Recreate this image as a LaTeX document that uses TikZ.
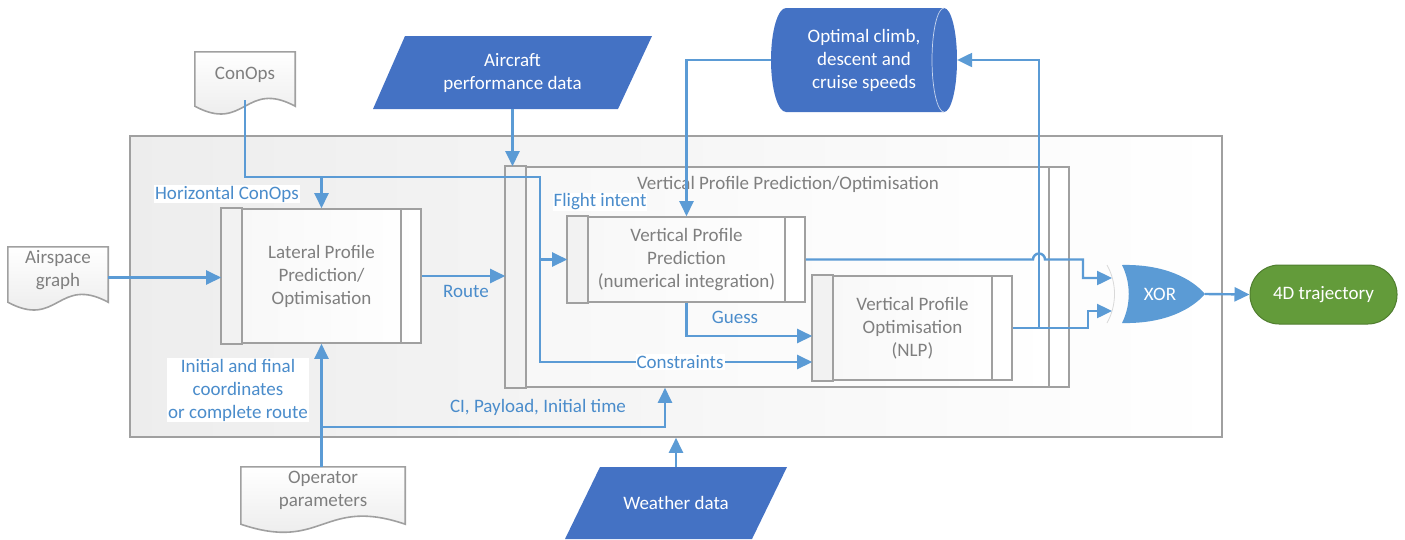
\documentclass[tikz,border=0pt]{standalone}
\usepackage{fontspec}
\setmainfont{Carlito}
\usetikzlibrary{arrows.meta,calc}
\definecolor{conn}{HTML}{5B9BD5}
\definecolor{lbl}{HTML}{4A8CCB}
\definecolor{boxline}{HTML}{A0A0A0}
\definecolor{boxtext}{HTML}{7F7F7F}
\definecolor{darkblue}{HTML}{4472C4}
\definecolor{xorblue}{HTML}{5B9BD5}
\definecolor{trajgreen}{HTML}{639B3A}
\definecolor{trajedge}{HTML}{507E2F}
\newcommand\docshape[2]{\draw[draw=boxline, line width=1.6pt, top color=white, bottom color=black!9] (#1.north west) -- (#1.north east) -- (#1.south east) .. controls ($(#1.south)+(0,-#2)$) and ($(#1.south)+(0,#2)$) .. (#1.south west) -- cycle;}
\newcommand\ppbars[2]{%
  \draw[draw=boxline, line width=1.6pt, fill=black!5] (#1.north west) rectangle ([xshift=#2]#1.south west);
  \draw[draw=boxline, line width=1.6pt] ([xshift=-#2]#1.north east) -- ([xshift=-#2]#1.south east);}
\begin{document}
\begin{tikzpicture}[x=1pt,y=-1pt, font=\fontsize{19}{23}\selectfont,
  link/.style={draw=conn, line width=2.4pt},
  arr/.style={link, -{Triangle[length=15pt,width=14pt]}},
  lab/.style={text=lbl, inner sep=1pt},
  labw/.style={lab, fill=white},
  procbox/.style={draw=boxline, line width=1.6pt, text=boxtext, align=center, inner sep=0pt, left color=black!3, right color=white},
  anchorbox/.style={inner sep=0pt, align=center},
]
\useasboundingbox (0,0) rectangle (1405,539);

% outer container
\node[draw=boxline, line width=1.6pt, left color=black!7, right color=white, minimum width=1092pt, minimum height=301pt, inner sep=0pt] (outer) at (676,286.5) {};

% vertical profile prediction/optimisation container
\node[procbox, minimum width=563pt, minimum height=220pt] (vppo) at (787.5,277) {};
\ppbars{vppo}{21pt}
\node[text=boxtext] (vppotitle) at (788,184) {Vertical Profile Prediction/Optimisation};

% lateral
\node[procbox, minimum width=199pt, minimum height=134pt] (lat) at (321.5,276) {Lateral Profile\\Prediction/\\Optimisation};
\ppbars{lat}{21pt}

% vertical prediction
\node[procbox, minimum width=237pt, minimum height=85pt] (vpp) at (686.5,259.5) {Vertical Profile\\Prediction\\(numerical integration)};
\ppbars{vpp}{21pt}

% NLP
\node[procbox, minimum width=199pt, minimum height=104pt] (nlp) at (912.5,328) {Vertical Profile\\Optimisation\\(NLP)};
\ppbars{nlp}{21pt}

% documents
\node[anchorbox, minimum width=100pt, minimum height=54pt] (conops) at (245,79) {};
\docshape{conops}{27}
\node[text=boxtext] (conopstext) at (245,75) {ConOps};

\node[anchorbox, minimum width=100pt, minimum height=55pt] (air) at (58,274.5) {};
\docshape{air}{27}
\node[text=boxtext, align=center] (airtext) at (58,270) {Airspace\\graph};

\node[anchorbox, minimum width=164pt, minimum height=57pt] (op) at (323,495.5) {};
\docshape{op}{28}
\node[text=boxtext, align=center] (optext) at (323,490) {Operator\\parameters};

% data parallelograms
\fill[darkblue] (405,36) -- (652,36) -- (618,109) -- (373,109) -- cycle;
\node[anchorbox, text=white, minimum height=73pt, minimum width=10pt] (acp) at (512.5,72.5) {Aircraft\\performance data};

\fill[darkblue] (600,467) -- (787,467) -- (752,539) -- (565,539) -- cycle;
\node[anchorbox, text=white, minimum height=72pt, minimum width=10pt] (wx) at (676,503) {Weather data};

% cylinder
\fill[darkblue] (786,8) -- (944,8) arc[start angle=-90,end angle=90,x radius=13,y radius=52] -- (786,112) arc[start angle=90,end angle=270,x radius=15,y radius=52] -- cycle;
\draw[white!70!darkblue, line width=0.7pt] (944,8) arc[start angle=-90,end angle=-270,x radius=12,y radius=52];
\node[anchorbox, text=white, minimum width=186pt, minimum height=104pt] (cyl) at (864,60) {Optimal climb,\\descent and\\cruise speeds};

% XOR gate
\draw[black!15, line width=0.8pt] (1107,265) .. controls (1117,283) and (1117,305) .. (1107,323);
\fill[xorblue] (1122,265) .. controls (1165,264) and (1192,279) .. (1205,294) .. controls (1192,309) and (1165,324) .. (1122,323) .. controls (1131,305) and (1131,283) .. cycle;
\node[anchorbox, text=white, minimum width=90pt, minimum height=58pt] (xor) at (1160,294) {XOR};

% 4D trajectory
\node[fill=trajgreen, draw=trajedge, line width=1pt, rounded corners=29pt, minimum width=147pt, minimum height=59pt, text=white, inner sep=0pt] (traj) at (1323.5,294.5) {4D trajectory};

% helper coordinates
\coordinate (cA) at (540,177);
\coordinate (fb) at (1039,0);
\coordinate (bx1) at (1083,0);
\coordinate (bx2) at (1088,0);
\coordinate (xin1) at (1112,278);
\coordinate (xin2) at (1112,311);
\coordinate (cB) at (321.5,427);

% connectors
\draw[arr] ([yshift=6pt]conops.south) |- (cA) |- ([yshift=-34pt]nlp.west);
\draw[arr] (lat.north |- cA) -- (lat.north);
\draw[arr] (cA |- vpp.west) -- (vpp.west);
\draw[arr] ([yshift=-3pt]air.east) -- ([yshift=-3pt]air.east -| lat.west);
\draw[arr] (lat.east) -- (lat.east -| vppo.west);
\draw[arr] (acp.south) -- (acp.south |- vppo.north);
\draw[arr] (cyl.west) -| (vpp.north);
\draw[arr] (vpp.south) |- ([yshift=-8pt]nlp.west);
\draw[arr] (vpp.east) -- ($(vpp.east -| fb)+(-6,0)$) arc[start angle=180,end angle=360,radius=6] -- (vpp.east -| bx1) |- (xin1);
\draw[arr] (nlp.east) -- (nlp.east -| bx2) |- (xin2);
\draw[arr] (nlp.east -| fb) |- (cyl.east);
\draw[arr] (lat.south |- op.north) -- (lat.south);
\draw[arr] (cB) -| ($(vppo.south)+(-122.5,0)$);
\draw[arr] (wx.north) -- (wx.north |- outer.south);
\draw[arr] (xor.east) -- (traj.west);

% labels
\node[labw] (l1) at (227,194) {Horizontal ConOps};
\node[labw] (l2) at (600,202) {Flight intent};
\node[lab] (l3) at (466,291) {Route};
\node[lab] (l4) at (735,317) {Guess};
\node[labw] (l5) at (680,362) {Constraints};
\node[lab] (l6) at (538,407) {CI, Payload, Initial time};
\node[labw, align=center] (l7) at (238,390) {Initial and final\\coordinates\\or complete route};
\end{tikzpicture}
\end{document}
